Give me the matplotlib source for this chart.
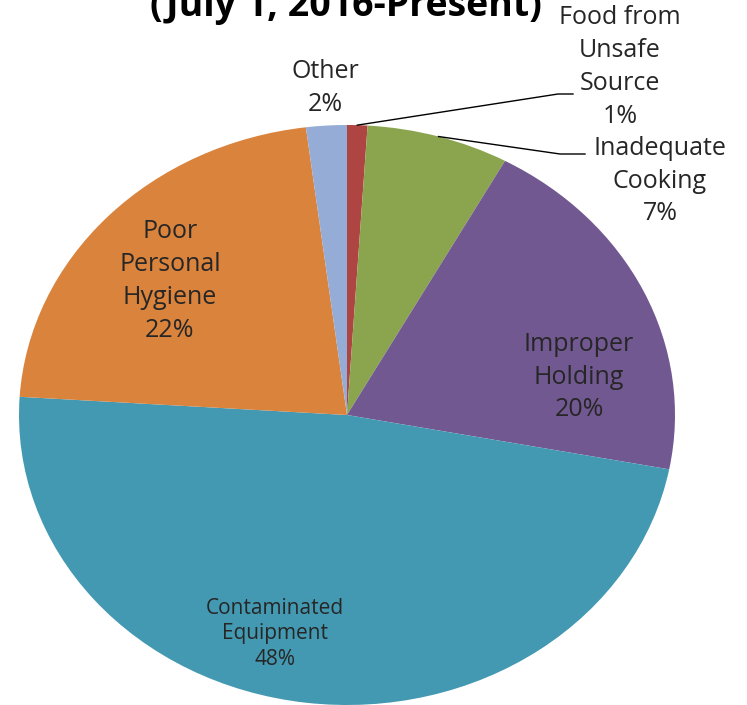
import matplotlib.pyplot as plt
from matplotlib.lines import Line2D
import numpy as np

# contributing factors, clockwise from 12 o'clock
factors = ["Food from\nUnsafe\nSource", "Inadequate\nCooking", "Improper\nHolding",
           "Contaminated\nEquipment", "Poor\nPersonal\nHygiene", "Other"]
shares = [1, 7, 20, 48, 22, 2]
colors = ["#AE4543", "#8AA54E", "#725891", "#4399B1", "#DA833C", "#95ADD6"]

W, H = 747, 705
plt.rcParams['font.family'] = ['Open Sans', 'DejaVu Sans']
fig = plt.figure(figsize=(W / 100, H / 100), dpi=100)

# pie is stretched sideways: 328 px wide radius, 290 px tall radius
cx, cy, rx, ry = 347, 415, 328, 290
ax = fig.add_axes([(cx - rx) / W, (H - cy - ry) / H, 2 * rx / W, 2 * ry / H])
wedges, _ = ax.pie(shares, colors=colors, startangle=90, counterclock=False,
                   wedgeprops=dict(linewidth=0))
ax.set_aspect('auto')
ax.set_xlim(-1, 1)
ax.set_ylim(-1, 1)
ax.axis('off')
for w in wedges:
    w.set_clip_on(False)

txt = '#262626'


def px(x, y):
    # pixel position measured from the top-left corner -> figure fraction
    return x / W, 1 - y / H


def put(label, share, x, y, size=18, ls=1.42):
    fig.text(*px(x, y), f"{label}\n{share}%", ha='center', va='center',
             fontsize=size, color=txt, linespacing=ls)


def leader(i, elbow, end):
    # line from the middle of a wedge's rim out to its label
    w = wedges[i]
    mid = np.deg2rad((w.theta1 + w.theta2) / 2)
    sx, sy = ax.transData.transform((np.cos(mid), np.sin(mid)))
    xs = [sx / W, elbow[0] / W, end[0] / W]
    ys = [sy / H, 1 - elbow[1] / H, 1 - end[1] / H]
    fig.add_artist(Line2D(xs, ys, color='black', lw=1.0, transform=fig.transFigure))


fig.text(*px(346, 16), "(July 1, 2016-Present)", ha='center', va='baseline',
         fontsize=27, fontweight='bold', color='black')

put(factors[0], shares[0], 620, 67)
put(factors[1], shares[1], 660, 181)
put(factors[2], shares[2], 579, 377)
put(factors[3], shares[3], 275, 634, size=15, ls=1.3)
put(factors[4], shares[4], 170, 281)
put(factors[5], shares[5], 325, 88)

leader(0, (558, 94), (573, 94))
leader(1, (560, 154), (585, 154))

fig.savefig("out.png", dpi=100)
